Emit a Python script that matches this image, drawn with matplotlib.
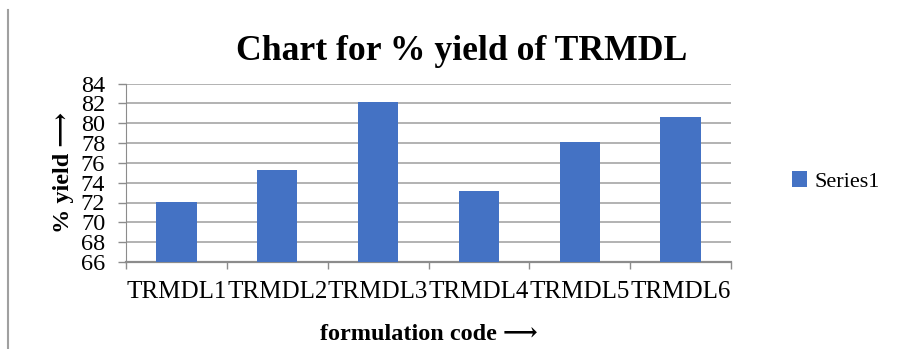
import numpy as np
import matplotlib
matplotlib.use("Agg")
import matplotlib.pyplot as plt
from matplotlib.lines import Line2D

plt.rcParams['font.family'] = ['Liberation Serif', 'DejaVu Serif']

categories = ["TRMDL1", "TRMDL2", "TRMDL3", "TRMDL4", "TRMDL5", "TRMDL6"]
yield_pct = [72.05, 75.27, 82.1, 73.13, 78.1, 80.65]
yticks = list(range(66, 85, 2))

serif = ['Liberation Serif', 'DejaVu Serif']

fig = plt.figure(figsize=(8.99, 3.49), dpi=100)
ax = fig.add_axes([126 / 899, 1 - 262 / 349, 605 / 899, (262 - 83.5) / 349])

x = np.arange(len(categories))
ax.bar(x, yield_pct, width=0.4, color="#4472C4", label="Series1", zorder=3)

ax.set_xlim(-0.5, len(categories) - 0.5)
ax.set_ylim(66, 84)
ax.set_yticks(yticks)
ax.set_yticklabels([str(t) for t in yticks], fontsize=17.5)
ax.yaxis.grid(True, color="#a6a6a6", linewidth=1.2, zorder=0)

# category labels between boundary ticks
ax.set_xticks(np.arange(-0.5, len(categories), 1.0))
ax.set_xticklabels([])
ax.set_xticks(x, minor=True)
ax.set_xticklabels(categories, minor=True, fontsize=18)
ax.tick_params(axis="x", which="minor", length=0, pad=14)
ax.tick_params(axis="x", which="major", length=5, color="#8c8c8c", width=1)
ax.tick_params(axis="y", length=6, color="#8c8c8c", width=1, pad=9)

for s in ["top", "right"]:
    ax.spines[s].set_visible(False)
ax.spines["left"].set_color("#8c8c8c")
ax.spines["bottom"].set_color("#8c8c8c")
ax.spines["bottom"].set_linewidth(1.6)

ax.set_xlabel("formulation code \u27f6", fontsize=17.5, fontweight="bold", labelpad=15)
ax.set_ylabel("% yield \u27f6", fontsize=17.5, fontweight="bold", labelpad=5)

fig.text(462 / 899, 1 - 52 / 349, "Chart for % yield of TRMDL", ha="center",
         va="center", fontsize=25.7, fontweight="bold")

leg = ax.legend(loc="center left", bbox_to_anchor=(783 / 605 - 126 / 605, 0.45),
                frameon=False, prop={"family": serif, "size": 16},
                handlelength=0.7, handleheight=0.7,
                handletextpad=0.3, borderaxespad=0)
for t in leg.get_texts():
    t.set_fontfamily(serif)

# left border line of the figure
fig.add_artist(Line2D([8 / 899, 8 / 899], [0, 1 - 10 / 349], color="#a0a0a0",
                      linewidth=1.5, transform=fig.transFigure))

fig.savefig("out.png", dpi=100)
